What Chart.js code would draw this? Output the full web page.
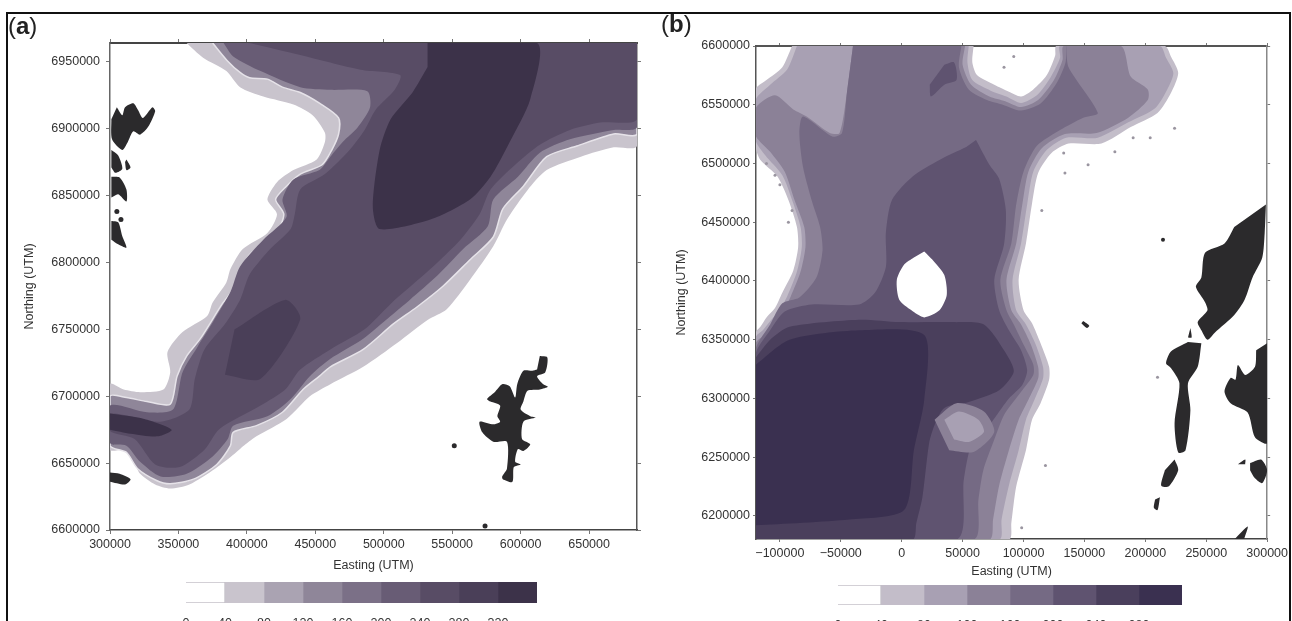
<!DOCTYPE html>
<html lang="en">
<head>
<meta charset="UTF-8">
<title>Depth maps</title>
<script src="https://cdn.jsdelivr.net/npm/chart.js"></script>
<style>
    body { margin: 0; background: #fff; font-family: "Liberation Sans", Arial, sans-serif; }
    #frame { position: absolute; left: 6px; top: 12px; width: 1281px; height: 620px; border: 2px solid #111; border-bottom: none; }
    canvas { position: absolute; }
    .tag { position: absolute; font-size: 24px; color: #222; line-height: 24px; }
    .tag b { font-weight: bold; }
</style>
</head>
<body>
<div id="frame"></div>
<canvas id="mapA" style="left:0;top:0" width="650" height="621"></canvas>
<canvas id="mapB" style="left:650px;top:0" width="642" height="621"></canvas>
<canvas id="barA" style="left:170px;top:575px" width="383" height="46"></canvas>
<canvas id="barB" style="left:822px;top:578px" width="376" height="43"></canvas>
<div class="tag" style="left:8px;top:14px">(<b>a</b>)</div>
<div class="tag" style="left:661px;top:12px">(<b>b</b>)</div>
<script>
// all outlines are [easting km, northing km]
const eastTicksA = [300000, 350000, 400000, 450000, 500000, 550000, 600000, 650000];
const northTicksA = [6600000, 6650000, 6700000, 6750000, 6800000, 6850000, 6900000, 6950000];
const eastTicksB = [-100000, -50000, 0, 50000, 100000, 150000, 200000, 250000, 300000];
const northTicksB = [6200000, 6250000, 6300000, 6350000, 6400000, 6450000, 6500000, 6550000, 6600000];
const levelsA = [0, 40, 80, 120, 160, 200, 240, 280, 320];
const levelsB = [0, 40, 80, 120, 160, 200, 240, 280];
const coloursA = ['#ffffff', '#c9c4cd', '#aaa3b2', '#8f8699', '#7b7087', '#685c75', '#584c65', '#4a3f58', '#3c3249'];
const coloursB = ['#ffffff', '#c3bdc9', '#a8a0b3', '#8b8197', '#756a84', '#5f5370', '#4a3f5c', '#3a3050'];

const a40 = [[356,6964],[368,6953],[385,6943],[395,6931],[412,6924],[434,6918],[448,6910],[457,6897],[457,6890],[451,6877],[434,6869],[422,6860],[415,6847],[422,6836],[415,6822],[397,6810],[388,6795],[385,6785],[375,6770],[371,6760],[353,6748],[342,6733],[344,6718],[339,6705],[322,6703],[310,6705],[300,6709],[300,6660],[311,6660],[317,6652],[322,6642],[333,6634],[344,6631],[358,6634],[377,6646],[391,6657],[399,6664],[407,6670],[429,6683],[446,6700],[461,6709],[485,6722],[510,6740],[532,6757],[546,6765],[563,6787],[580,6812],[590,6832],[605,6854],[619,6869],[644,6879],[668,6886],[685,6887],[685,6964]];
const a80 = [[375,6964],[385.5,6951],[395,6942],[402,6938],[415,6937],[426,6931],[439,6927],[453,6919],[467,6908],[467,6896],[462,6884],[455,6873],[439,6866],[428,6856],[421,6847],[427,6836],[421,6821],[402,6806],[394,6791],[390,6780],[382,6769],[366,6743],[356,6730],[349,6715],[344,6694],[327,6696],[312,6699],[300,6700],[300,6663],[312,6658],[320,6646],[334,6637],[344,6634.5],[361,6638],[378,6649],[388,6663],[390,6673],[407,6678],[426,6688],[441,6705],[453,6715],[461,6722],[485,6735],[507,6754],[524,6766.5],[543,6782],[563,6802],[580,6819],[587,6840],[602,6857],[619,6879],[641,6887],[668,6896],[685,6896],[685,6964]];
const a160 = [[383,6964],[390,6954],[410,6943],[439,6931],[461,6929],[488,6928],[490,6916],[481,6901],[470,6890],[461,6879],[453,6869],[434,6862],[426,6847],[429,6834],[412,6817],[395,6797],[388,6778],[375,6755],[364,6737],[353,6718],[346,6690],[327,6688],[300,6693],[300,6665],[312,6663],[322,6651],[337,6640],[356,6642],[375,6655],[386,6668],[390,6678],[415,6685],[432,6698],[446,6715],[461,6728],[485,6743],[505,6760],[519,6772],[539,6790],[558,6810],[576,6827],[580,6847],[598,6864],[614,6882],[636,6892],[668,6899],[685,6901],[685,6964]];
const a240 = [[402,6964],[439,6955],[483,6944],[512,6940],[508,6929],[494,6914],[486,6899],[475,6884],[457,6866],[439,6854.5],[435,6836],[432,6825],[417,6810],[402,6791],[395,6772],[384,6754],[369,6735],[362,6713],[358,6690],[337,6681],[300,6687],[300,6674],[318,6668],[333,6649],[351,6647],[369,6660],[380,6675.5],[410,6693],[428,6705],[439,6720],[461,6735],[486,6750],[505,6769],[534,6795],[556,6817],[570,6836],[578,6854.5],[596,6873],[614,6888],[636,6899],[658,6904.5],[685,6907],[685,6964]];
const a320 = [[532,6964],[612,6964],[607,6922],[592,6890],[578,6864],[563,6847],[534,6832],[497,6825],[492,6842],[497,6884],[505,6907],[521,6927],[532,6946]];
const a320West = [[300,6687],[325,6683],[345,6675],[335,6670],[315,6672],[300,6675]];
const a280South = [[391,6750],[428,6772],[439,6757.5],[410,6713],[384,6716]];

const faroe = [
    [[305,6916],[309,6910],[311,6916],[317,6919],[320.5,6914],[324,6908],[331,6916],[333,6913],[328,6901.5],[322,6895.5],[317,6898],[313,6890],[309,6884],[301.5,6892],[301,6907]],
    [[301,6884],[306,6880],[309,6870],[304,6867],[301,6871]],
    [[312,6877],[315,6871],[312,6869],[311,6875]],
    [[301,6864],[307,6863.5],[312,6854.5],[312,6845.5],[306,6851],[301,6848.5]],
    [[301,6831],[306,6830],[309,6819.5],[312,6811],[306,6813.5],[301,6817]],
    [[300,6643],[307,6642],[315,6638],[311,6634],[300,6636]]
];
const shetland = [[614,6730],[619.5,6729],[618,6718],[612,6715],[616.5,6709],[620,6707],[614,6705],[605,6704],[602,6696],[600,6690],[607,6685],[611,6684],[602,6681],[601,6668],[607,6664],[602,6659],[598,6660.5],[596,6651],[600,6649],[595,6647],[594,6636],[587,6638],[586.5,6640],[590,6646],[590,6666],[580,6666],[572,6673],[570,6681],[580,6679],[585,6681],[583,6685],[585,6693],[578,6696],[575.5,6698],[581,6703],[586.5,6709],[592,6707.5],[596,6699],[597.5,6709],[602,6719],[608.5,6719],[612,6720]];
const dotsA = [[551.5,6663],[574,6603],[305,6838],[308,6832]];

const b40 = [[-90,6600],[-98,6582],[-111,6571],[-120,6563],[-120,6514],[-116,6503],[-102,6489],[-93,6469],[-86,6446],[-85,6429],[-89,6409],[-98,6390],[-104,6377],[-111,6369],[-116,6361],[-120,6356],[-120,6180],[88,6180],[90,6194],[94,6225],[102,6256],[107,6282],[114,6296],[121,6316],[121,6327],[114,6347],[107,6364],[100,6375],[96,6401],[102,6432],[107,6466],[112,6492],[123,6509],[137,6517],[164,6517],[188,6531],[210,6543],[221,6560],[227,6577],[221,6591],[216,6600],[127,6600],[126,6592],[119,6575],[108,6563],[98,6557],[88,6561],[76,6567],[62,6575],[58,6586],[59,6600]];
const b80 = [[-86,6600],[-94,6580],[-108,6567],[-120,6554],[-120,6520],[-112,6507],[-98,6490],[-90,6469],[-83,6446],[-82,6429],[-86,6408],[-94,6387],[-101,6374],[-107,6367],[-114,6358],[-120,6352],[-120,6180],[80,6180],[82,6197],[88,6226],[96,6256],[102,6282],[109,6299],[116,6317],[116,6327],[110,6346],[102,6363],[94,6375],[91,6401],[98,6432],[103,6465],[108,6493],[119,6511.5],[135,6522],[161,6522],[186,6535],[208,6547],[218,6563],[223,6577],[217,6590],[212,6600],[130,6600],[130,6590],[122,6573],[111,6558],[98,6551.5],[86,6557],[73,6562],[58,6571],[54,6585.5],[55,6600]];
const b120 = [[-40,6600],[-45,6560],[-51,6526],[-59,6526],[-78,6540],[-89,6546],[-104,6558],[-120,6547],[-120,6524],[-108,6510],[-96,6493],[-88,6469],[-80,6446],[-79,6429],[-83,6408],[-91,6387],[-98,6372],[-104,6363],[-111,6355],[-120,6346.5],[-120,6180],[72,6180],[75,6197],[80,6226],[88,6256],[96,6282],[104,6299],[112,6317],[112,6327],[106,6346],[98,6363],[90,6375],[86,6401],[94,6432],[99,6465],[104,6493],[115,6513],[134,6525],[160,6526],[186,6539],[202,6554],[202,6563],[188,6574],[180,6600],[133,6600],[132,6588],[125,6571],[112,6554],[98,6548],[85,6553],[72,6557],[57,6567],[50,6584],[52,6600]];
const b160 = [[-40,6600],[-45,6560],[-49,6526],[-57,6523],[-81,6540],[-84,6526],[-81,6497],[-74,6469],[-67,6446],[-65,6426],[-70,6403],[-84,6386],[-98,6381],[-108,6363],[-120,6341],[-120,6180],[59,6180],[63,6214],[67,6239],[76,6265],[84,6286],[96,6303],[108,6320],[108,6329],[100,6346],[92,6363],[86,6375],[81,6401],[90,6432],[94,6465],[100,6493],[111,6515],[130,6528.5],[149,6539],[161,6543],[137,6582],[135,6600],[134.5,6586],[127,6568],[114,6551],[98,6545],[83,6550],[70,6554],[55,6563],[47,6582],[49,6600]];
const b200 = [[61,6520],[72,6499],[80,6487],[85.5,6460],[84,6431],[76,6401],[80,6375],[88,6358],[98,6341],[103,6324],[99,6311.5],[88,6300],[76,6283],[67.5,6271],[57,6260],[51,6231],[45,6180],[-120,6180],[-120,6337],[-108,6358],[-96,6374],[-74,6380],[-35,6380],[-22,6390],[-13,6412],[-13,6441],[-8,6469],[9,6489],[31,6503],[53,6514]];
const b200North = [[35,6584],[43,6586],[45,6571],[35,6567],[24,6557],[23,6567]];
const b240 = [[-120,6334.5],[-108,6350],[-92,6361],[-35,6367],[-2,6365],[43,6365],[67.5,6363],[84,6341],[92,6323],[80,6307],[55,6297],[35,6292],[27,6277.5],[22.5,6262],[17,6216],[12,6194],[9,6180],[-120,6180]];
const b280 = [[-120,6328.5],[-92,6350],[-35,6358],[18.5,6354],[18.5,6299],[10,6256],[2,6205],[-43,6197],[-120,6192]];
const bRiseOuter = [[27,6282],[45,6296],[67.5,6289],[76,6271.5],[59,6254.5],[39,6256]];
const bRiseInner = [[35,6282],[47,6289],[63,6282],[67.5,6271.5],[55,6263],[43,6265]];
const bHole = [[18.5,6425],[27,6416],[35,6405],[37,6388],[31,6375],[18.5,6369],[8,6375],[-2,6384],[-4,6401],[2,6414],[10,6420]];

const norway = [
    [[299,6465],[298,6441],[296,6420],[288,6403],[281.5,6384],[273,6371],[257,6356],[251,6350],[246,6358],[243,6365],[251,6375],[249,6382],[241.5,6395],[246,6403],[249,6424],[265,6432],[273,6446]],
    [[246,6347],[243,6327],[235,6313],[237,6290],[233,6256],[227,6254],[224,6279],[228,6313],[221,6326],[217,6330],[221,6340],[235,6348]],
    [[224,6248],[227,6239],[219,6225],[213,6226],[216,6239]],
    [[212,6216],[210,6205],[207,6207],[208,6214]],
    [[237,6360],[238,6352],[235,6352]],
    [[300,6347],[300,6262],[290,6267],[284,6288],[270,6296],[265,6306],[270,6317.5],[274,6316],[276,6328.5],[282,6320],[290,6327],[291,6341]],
    [[286,6245],[295,6248],[300,6239],[296,6228],[290,6232],[286,6239]],
    [[273,6180],[284,6191],[281,6180]],
    [[276,6244],[282,6248],[282,6244]],
    [[149,6366],[154,6362],[152,6360],[147.5,6364]]
];
const dotsB = [[214.5,6435]];
const speckB = [[210,6318],[190,6522],[204,6522],[224,6530],[175,6510],[133,6509],[115,6460],[153,6499],[134,6492],[92,6591],[84,6582],[-111,6500],[-104,6490],[-100,6482],[-90,6460],[-93,6450],[98.5,6190],[118,6243]];

const land = '#2b2a2c';
const toPoints = pts => pts.map(p => ({ x: p[0] * 1000, y: p[1] * 1000 }));

function shape(pts, colour, edge) {
    return {
        data: toPoints(pts), showLine: true, fill: 'shape', backgroundColor: colour,
        borderColor: edge || colour, borderWidth: edge ? 1.5 : 0, pointRadius: 0, tension: 0.25
    };
}
function spots(pts, colour, radius) {
    return { data: toPoints(pts), showLine: false, backgroundColor: colour, borderWidth: 0, pointRadius: radius };
}

function mapChart(id, datasets, box, eastTicks, northTicks, edge) {
    const fmt = v => String(v).replace('-', '\u2212');
    const font = { family: '"Liberation Sans", Arial, sans-serif', size: 12.5 };
    const noGrid = { drawOnChartArea: false, color: '#777', tickLength: box.tick };
    const xExtent = { min: box.xMin, max: box.xMax, type: 'linear' };
    const yExtent = { min: box.yMin, max: box.yMax, type: 'linear' };
    new Chart(document.getElementById(id), {
        type: 'scatter',
        data: { datasets: datasets.reverse() },
        options: {
            responsive: false, animation: false,
            layout: { padding: 0 },
            plugins: { legend: { display: false }, tooltip: { enabled: false } },
            scales: {
                x: {
                    ...xExtent, position: 'bottom', grid: noGrid, border: { color: edge.bottom, width: 1.5 },
                    afterBuildTicks: s => { s.ticks = eastTicks.map(v => ({ value: v })); },
                    afterFit: s => { s.height = box.bottom; },
                    ticks: { callback: fmt, font, color: '#333', maxRotation: 0, autoSkip: false, padding: box.padX },
                    title: { display: true, text: 'Easting (UTM)', font, color: '#333', padding: { top: 0, bottom: box.titleX } }
                },
                x2: {
                    ...xExtent, axis: 'x', position: 'top', grid: noGrid, border: { color: edge.top, width: 2 },
                    afterBuildTicks: s => { s.ticks = eastTicks.map(v => ({ value: v })); },
                    afterFit: s => { s.height = box.top; },
                    ticks: { display: false }
                },
                y: {
                    ...yExtent, position: 'left', grid: noGrid, border: { color: edge.left, width: 1.5 },
                    afterBuildTicks: s => { s.ticks = northTicks.map(v => ({ value: v })); },
                    afterFit: s => { s.width = box.left; },
                    ticks: { callback: fmt, font, color: '#333', autoSkip: false, padding: box.padY },
                    title: { display: true, text: 'Northing (UTM)', font, color: '#333', padding: { top: box.titleY, bottom: 0 } }
                },
                y2: {
                    ...yExtent, axis: 'y', position: 'right', grid: noGrid, border: { color: edge.right, width: 1.5 },
                    afterBuildTicks: s => { s.ticks = northTicks.map(v => ({ value: v })); },
                    afterFit: s => { s.width = box.right; },
                    ticks: { display: false }
                }
            }
        }
    });
}

function colourBar(id, levels, colours, max, padTop, axisHeight) {
    new Chart(document.getElementById(id), {
        type: 'bar',
        data: {
            labels: [''],
            datasets: levels.map((lv, i) => ({
                data: [40], backgroundColor: colours[i], barPercentage: 1, categoryPercentage: 1,
                borderColor: i === 0 ? '#c4c0c8' : colours[i], borderWidth: i === 0 ? 1 : 0
            }))
        },
        options: {
            indexAxis: 'y', responsive: false, animation: false,
            layout: { padding: { left: 16, right: 16, top: padTop, bottom: 0 } },
            plugins: { legend: { display: false }, tooltip: { enabled: false } },
            scales: {
                y: { stacked: true, display: false },
                x: {
                    stacked: true, min: 0, max: max,
                    grid: { display: false }, border: { display: false },
                    afterBuildTicks: s => { s.ticks = levels.map(v => ({ value: v })); },
                    afterFit: s => { s.height = axisHeight; },
                    ticks: { font: { family: '"Liberation Sans", Arial, sans-serif', size: 12.5 }, color: '#333', padding: 5, maxRotation: 0, autoSkip: false }
                }
            }
        }
    });
}

mapChart('mapA', [
    shape(a40, coloursA[1]),
    shape(a80, coloursA[3], '#e6e3e9'),
    shape(a160, coloursA[5]),
    shape(a240, coloursA[6]),
    shape(a280South, coloursA[7]),
    shape(a320, coloursA[8]),
    shape(a320West, coloursA[8]),
    ...faroe.map(p => shape(p, land)),
    shape(shetland, land),
    spots(dotsA, land, 2.5)
], { xMin: 300000, xMax: 685000, yMin: 6600000, yMax: 6964000, left: 110, right: 13, top: 43, bottom: 91, tick: 4, padX: 3, padY: 6, titleX: 48, titleY: 22 },
eastTicksA, northTicksA, { top: '#444', bottom: '#444', left: '#666', right: '#555' });

mapChart('mapB', [
    shape(b40, coloursB[1]),
    shape(b80, coloursB[2]),
    shape(b120, coloursB[3]),
    shape(b160, coloursB[4]),
    shape(b200, coloursB[5]),
    shape(b200North, coloursB[5]),
    shape(b240, coloursB[6]),
    shape(b280, coloursB[7]),
    shape(bRiseOuter, coloursB[3]),
    shape(bRiseInner, coloursB[2]),
    shape(bHole, '#ffffff'),
    ...norway.map(p => shape(p, land)),
    spots(dotsB, land, 2),
    spots(speckB, '#9a95a0', 1.5)
], { xMin: -119600, xMax: 300000, yMin: 6180400, yMax: 6600000, left: 106, right: 22, top: 46, bottom: 82, tick: 3, padX: 4, padY: 3, titleX: 42, titleY: 24 },
eastTicksB, northTicksB, { top: '#555', bottom: '#444', left: '#555', right: '#888' });

colourBar('barA', levelsA, coloursA, 360, 7, 18);
colourBar('barB', levelsB, coloursB, 320, 7, 16);
</script>
</body>
</html>
